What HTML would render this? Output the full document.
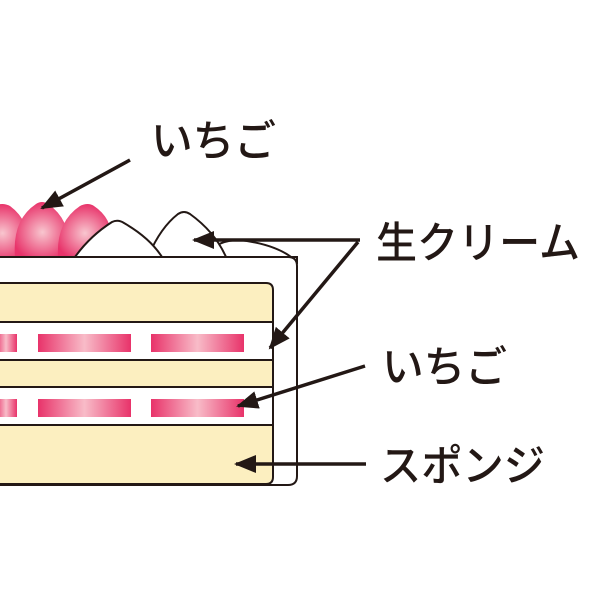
<!DOCTYPE html>
<html><head><meta charset="utf-8"><style>
html,body{margin:0;padding:0;background:#fff;}
svg{display:block;}
text{font-family:"Liberation Sans","Noto Sans CJK JP",sans-serif;fill:#231815;font-size:43px;font-weight:500;}
</style></head><body>
<svg width="600" height="600" viewBox="0 0 600 600" xmlns="http://www.w3.org/2000/svg">
<defs>
<radialGradient id="sb" cx="50%" cy="55%" r="55%">
<stop offset="0" stop-color="#f8c6cf"/><stop offset="1" stop-color="#e8336a"/>
</radialGradient>
<linearGradient id="bar" x1="0" x2="1" y1="0" y2="0">
<stop offset="0" stop-color="#e8336a"/><stop offset="0.5" stop-color="#f8bcc8"/><stop offset="1" stop-color="#e8336a"/>
</linearGradient>
<marker id="ah" markerWidth="22" markerHeight="18" refX="20" refY="9" orient="auto" markerUnits="userSpaceOnUse" viewBox="0 0 22 18">
<path d="M0,0 L22,9 L0,18 z" fill="#231815"/>
</marker>
</defs>
<!-- strawberries on top -->
<path d="M-25,257 Q-28,222 -5,206 Q2,202 10,206 Q32,222 30,257 Z" fill="url(#sb)"/>
<path d="M15,257 Q12,220 36,204 Q42,200 48,204 Q72,220 70,257 Z" fill="url(#sb)"/>
<path d="M58,257 Q56,222 80,206 Q88,202 94,206 Q112,218 112,240 L90,257 Z" fill="url(#sb)"/>
<!-- cream behind -->
<path d="M205,257 Q215,240 240,240 Q280,245 297,262 L297,257 Z" fill="#fff" stroke="#231815" stroke-width="2"/>
<path d="M148,257 Q160,228 178,214 Q184,210 190,214 Q215,232 226,257 Z" fill="#fff" stroke="#231815" stroke-width="2"/>
<path d="M75,257 Q90,236 112,222 Q118,219 124,223 Q150,238 162,257 Z" fill="#fff" stroke="#231815" stroke-width="2"/>
<!-- outer frame -->
<path d="M-5,257 L288,257 Q297,257 297,266 L297,476 Q297,485 288,485 L-5,485" fill="#fff" stroke="#231815" stroke-width="2"/>
<!-- sponge layers -->
<path d="M-5,283 L266,283 Q273,283 273,290 L273,477 Q273,484 266,484 L-5,484 Z" fill="#fcefc0" stroke="#231815" stroke-width="2"/>
<rect x="-5" y="322" width="278" height="38" fill="#fff" stroke="#231815" stroke-width="2"/>
<rect x="-5" y="387" width="278" height="38" fill="#fff" stroke="#231815" stroke-width="2"/>
<!-- bars -->
<rect x="-5" y="334" width="22" height="18" fill="url(#bar)"/>
<rect x="38" y="334" width="93" height="18" fill="url(#bar)"/>
<rect x="151" y="334" width="93" height="18" fill="url(#bar)"/>
<rect x="-5" y="399" width="22" height="18" fill="url(#bar)"/>
<rect x="38" y="399" width="93" height="18" fill="url(#bar)"/>
<rect x="151" y="399" width="93" height="18" fill="url(#bar)"/>
<!-- arrows -->
<g stroke="#231815" stroke-width="3.5" fill="none">
<line x1="130" y1="160" x2="42" y2="208" marker-end="url(#ah)"/>
<polyline points="360,240 194,240" marker-end="url(#ah)"/>
<line x1="358" y1="242" x2="270" y2="348" marker-end="url(#ah)"/>
<line x1="365" y1="366" x2="238" y2="406" marker-end="url(#ah)"/>
<line x1="366" y1="464" x2="236" y2="464" marker-end="url(#ah)"/>
</g>
<text x="151" y="156" textLength="125" lengthAdjust="spacingAndGlyphs">いちご</text>
<text x="376" y="258" textLength="204" lengthAdjust="spacingAndGlyphs">生クリーム</text>
<text x="382" y="382" textLength="125" lengthAdjust="spacingAndGlyphs">いちご</text>
<text x="380" y="481" textLength="165" lengthAdjust="spacingAndGlyphs">スポンジ</text>
</svg>
</body></html>
